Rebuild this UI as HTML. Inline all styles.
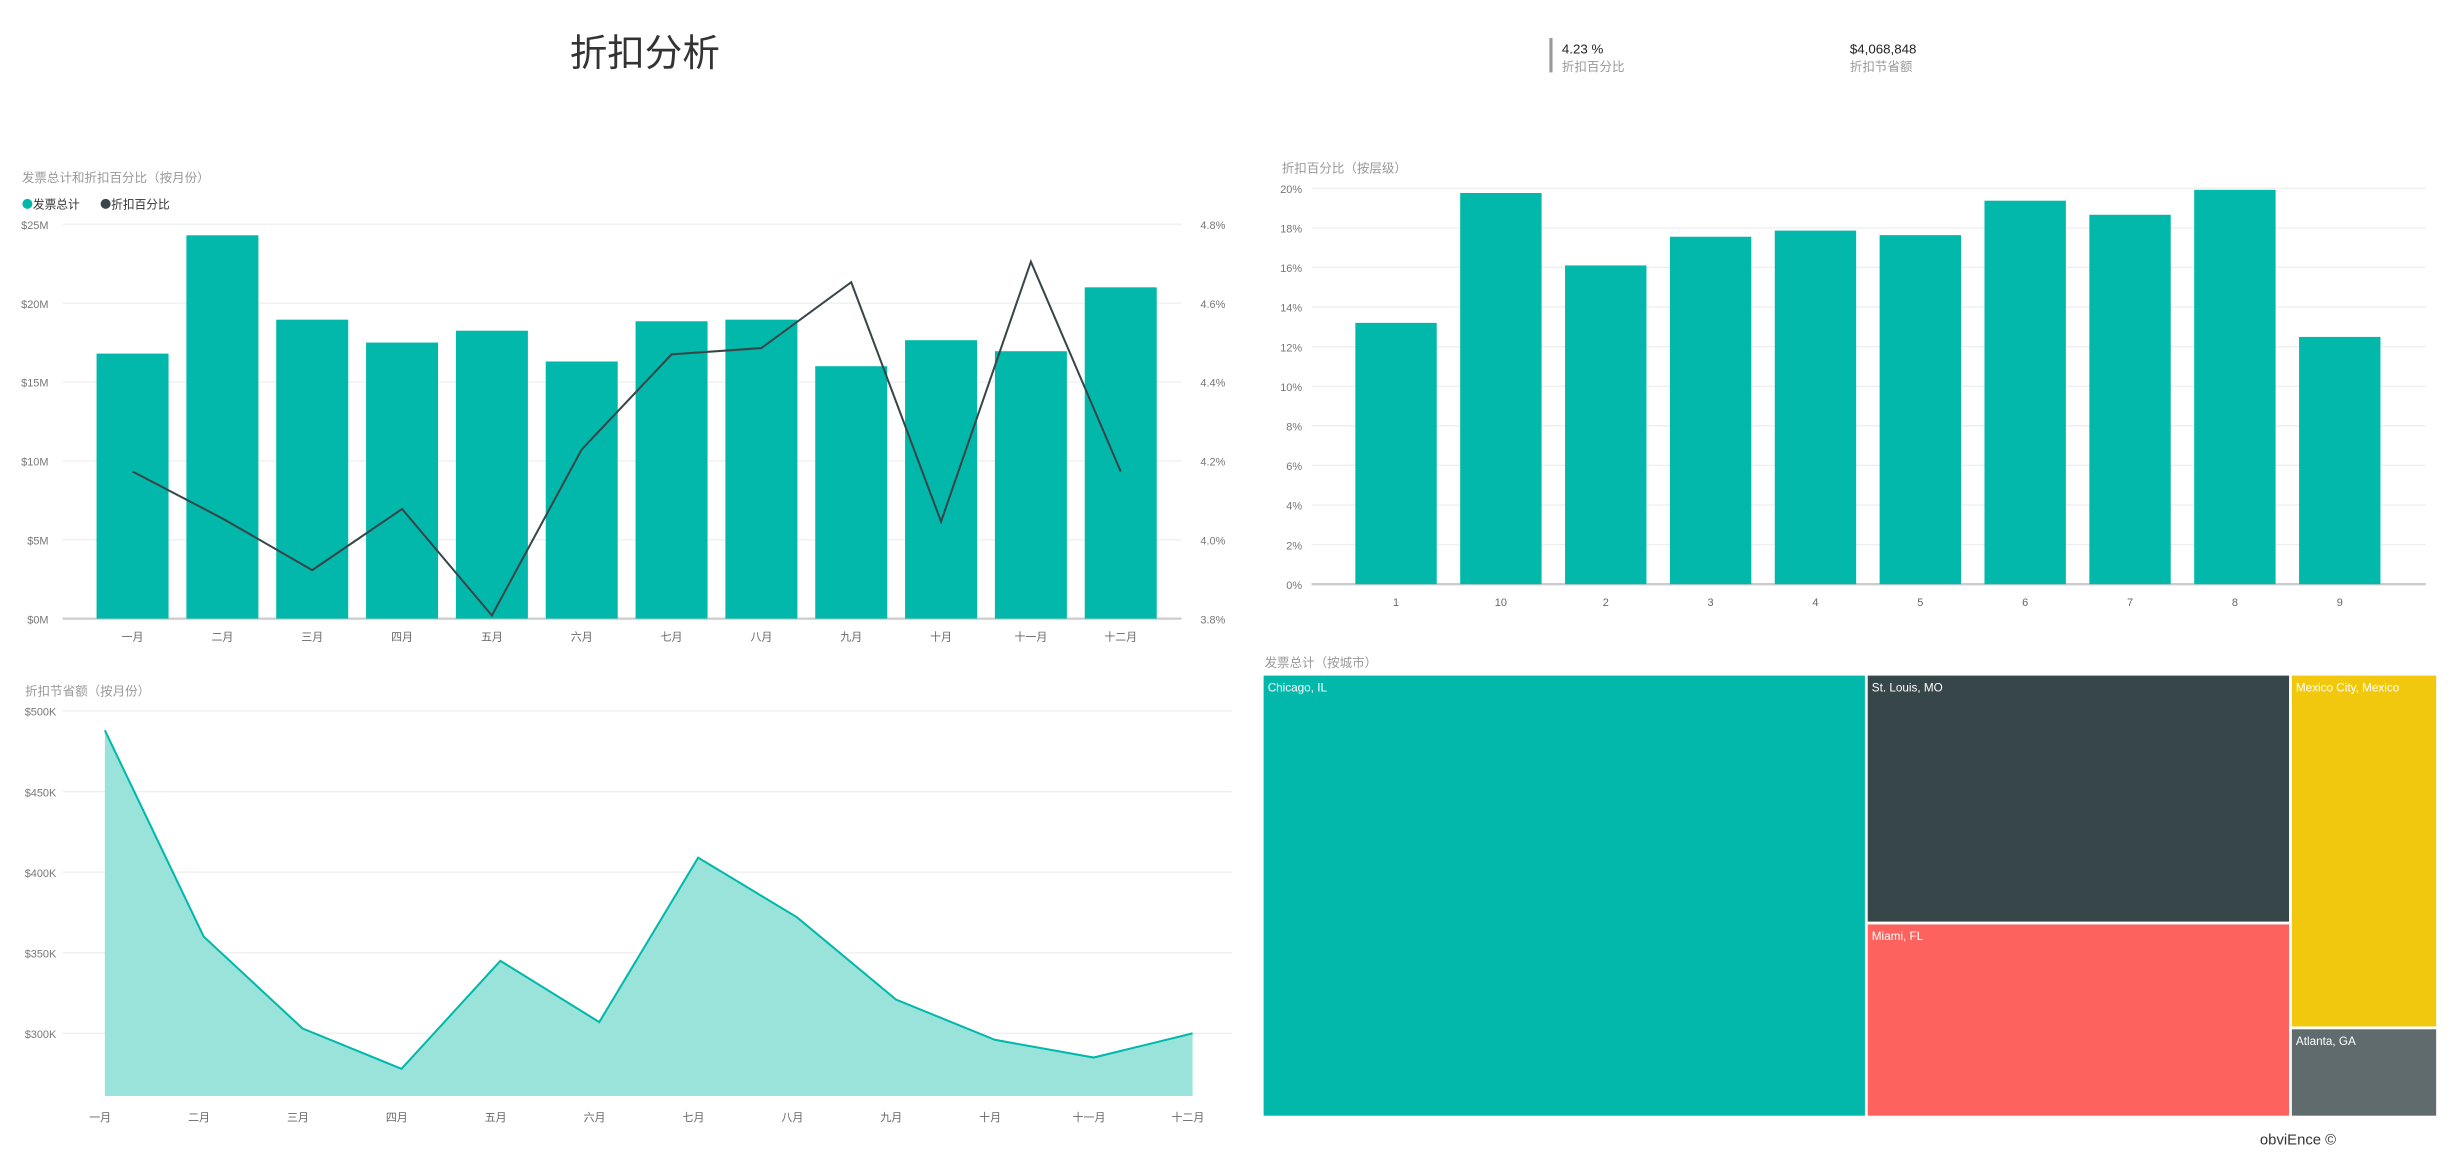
<!DOCTYPE html>
<html><head><meta charset="utf-8"><style>
html,body{margin:0;padding:0;background:#fff;}
svg{display:block;font-family:"Liberation Sans","Noto Sans CJK SC",sans-serif;}
</style></head><body>
<svg id="s" width="2454" height="1159" viewBox="0 0 1568 740" xmlns="http://www.w3.org/2000/svg">
<text x="412" y="42" font-size="24" fill="#333" text-anchor="middle">折扣分析</text>
<rect x="990" y="24" width="2" height="22" fill="#999"/>
<text x="998" y="34" font-size="8.5" fill="#222">4.23 %</text>
<text x="998" y="45" font-size="8" fill="#999">折扣百分比</text>
<text x="1182" y="34" font-size="8.5" fill="#222">$4,068,848</text>
<text x="1182" y="45" font-size="8" fill="#999">折扣节省额</text>
<g id="c1"></g>
<g id="c2"></g>
<g id="c3"></g>
<g id="c4"></g>
<text x="1444" y="731" font-size="9.5" fill="#333">obviEnce ©</text>
</svg>
<script>
const months = ["一月","二月","三月","四月","五月","六月","七月","八月","九月","十月","十一月","十二月"];
const invoiceM = [16.8,24.3,18.95,17.5,18.25,16.3,18.85,18.95,16.0,17.65,16.95,21.0];
const discountPct = [4.173,4.054,3.923,4.078,3.808,4.229,4.47,4.486,4.653,4.046,4.705,4.173];
const leftTicks = [0,5,10,15,20,25];
const rightTicks = [3.8,4.0,4.2,4.4,4.6,4.8];
const levels = ["1","10","2","3","4","5","6","7","8","9"];
const levelPct = [13.2,19.76,16.1,17.55,17.86,17.63,19.37,18.66,19.92,12.49];
const levelTicks = [0,2,4,6,8,10,12,14,16,18,20];
const savingsK = [488,360,303,278,345,307,409,372,321,296,285,300];
const savingsTicks = [300,350,400,450,500];
const cities = ["Chicago, IL","St. Louis, MO","Miami, FL","Mexico City, Mexico","Atlanta, GA"];
const NS="http://www.w3.org/2000/svg";
function mk(p,t,a,txt){const e=document.createElementNS(NS,t);for(const k in a)e.setAttribute(k,a[k]);if(txt!==undefined)e.textContent=txt;p.appendChild(e);return e;}
const TEAL="#01b8aa";
(function(){
const g=document.getElementById('c1');
const y0=395,y1=143,x0=40,x1=755,bx0=56,step=57.4,bw=46;
const yL=v=>y0-(v/25)*(y0-y1), yR=v=>y0-(v-3.8)/1.0*(y0-y1), xc=i=>bx0+step*(i+0.5);
let t=mk(g,'text',{x:14,y:116,'font-size':8,fill:'#999'},'发票总计和折扣百分比（按月份）');

let c=mk(g,'circle',{cx:17.5,cy:130,r:3.2,fill:TEAL});
t=mk(g,'text',{x:21,y:133,'font-size':7.5,fill:'#333'},'发票总计');
c=mk(g,'circle',{cx:67.5,cy:130,r:3.2,fill:'#374649'});
t=mk(g,'text',{x:71,y:133,'font-size':7.5,fill:'#333'},'折扣百分比');
leftTicks.forEach((v,i)=>{const y=yL(v);
 const l=mk(g,'line',{x1:x0,x2:x1,y1:y,y2:y,stroke:i==0?'#ccc':'#eee','stroke-width':i==0?1.5:0.8});
 const a=mk(g,'text',{x:31,y:y+3,'font-size':7,fill:'#777','text-anchor':'end'},'$'+v+'M');});
rightTicks.forEach(v=>{const a=mk(g,'text',{x:767,y:yR(v)+3,'font-size':7,fill:'#777'},v.toFixed(1)+'%');});
invoiceM.forEach((v,i)=>{const r=mk(g,'rect',{x:xc(i)-bw/2,y:yL(v),width:bw,height:y0-yL(v),fill:TEAL});
 const a=mk(g,'text',{x:xc(i),y:409,'font-size':7,fill:'#666','text-anchor':'middle'},months[i]);});
const p=mk(g,'polyline',{points:discountPct.map((v,i)=>xc(i)+','+yR(v)).join(' '),fill:'none',stroke:'#374649','stroke-width':1.3});

})();
(function(){
const g=document.getElementById('c2');
const y0=373,y1=120,x0=838,x1=1550,bx0=858.5,step=67,bw=52;
const y=v=>y0-(v/20)*(y0-y1), xc=i=>bx0+step*(i+0.5);
let t=mk(g,'text',{x:819,y:110,'font-size':8,fill:'#999'},'折扣百分比（按层级）');
levelTicks.forEach((v,i)=>{const yy=y(v);
 const l=mk(g,'line',{x1:x0,x2:x1,y1:yy,y2:yy,stroke:i==0?'#ccc':'#eee','stroke-width':i==0?1.5:0.8});
 const a=mk(g,'text',{x:832,y:yy+3,'font-size':7,fill:'#777','text-anchor':'end'},v+'%');});
levelPct.forEach((v,i)=>{const r=mk(g,'rect',{x:xc(i)-bw/2,y:y(v),width:bw,height:y0-y(v),fill:TEAL});
 const a=mk(g,'text',{x:xc(i),y:387,'font-size':7,fill:'#666','text-anchor':'middle'},levels[i]);});
})();
(function(){
const g=document.getElementById('c3');
const yTop=454,x0=40,x1=787,px0=67,px1=762,base=700;
const y=v=>yTop+(500-v)/50*51.5, x=i=>px0+(px1-px0)/11*i;
let t=mk(g,'text',{x:16,y:444,'font-size':8,fill:'#999'},'折扣节省额（按月份）');
savingsTicks.forEach(v=>{const yy=y(v);
 const l=mk(g,'line',{x1:x0,x2:x1,y1:yy,y2:yy,stroke:'#eee','stroke-width':0.8});
 const a=mk(g,'text',{x:36,y:yy+3,'font-size':7,fill:'#777','text-anchor':'end'},'$'+v+'K');});
const pts=savingsK.map((v,i)=>x(i)+','+y(v));
const ar=mk(g,'polygon',{points:x(0)+','+base+' '+pts.join(' ')+' '+x(11)+','+base,fill:'#99e3da'});
const ln=mk(g,'polyline',{points:pts.join(' '),fill:'none',stroke:TEAL,'stroke-width':1.3});
months.forEach((m,i)=>{const a=mk(g,'text',{x:x(i)-3,y:716,'font-size':7,fill:'#666','text-anchor':'middle'},m);});
})();
(function(){
const g=document.getElementById('c4');
let t=mk(g,'text',{x:808,y:426,'font-size':8,fill:'#999'},'发票总计（按城市）');
const rects=[[807,431,1192,713,TEAL],[1193,431,1463,589,'#374649'],[1193,590,1463,713,'#fd625e'],[1464,431,1557,656,'#f2c80f'],[1464,657,1557,713,'#5f6b6d']];
rects.forEach((r,i)=>{const e=mk(g,'rect',{x:r[0],y:r[1],width:r[2]-r[0],height:r[3]-r[1],fill:r[4],stroke:'#fff','stroke-width':0.8});
 const a=mk(g,'text',{x:r[0]+3,y:r[1]+10.5,'font-size':7.5,fill:'#fff'},cities[i]);});
})();
</script>
</body></html>
